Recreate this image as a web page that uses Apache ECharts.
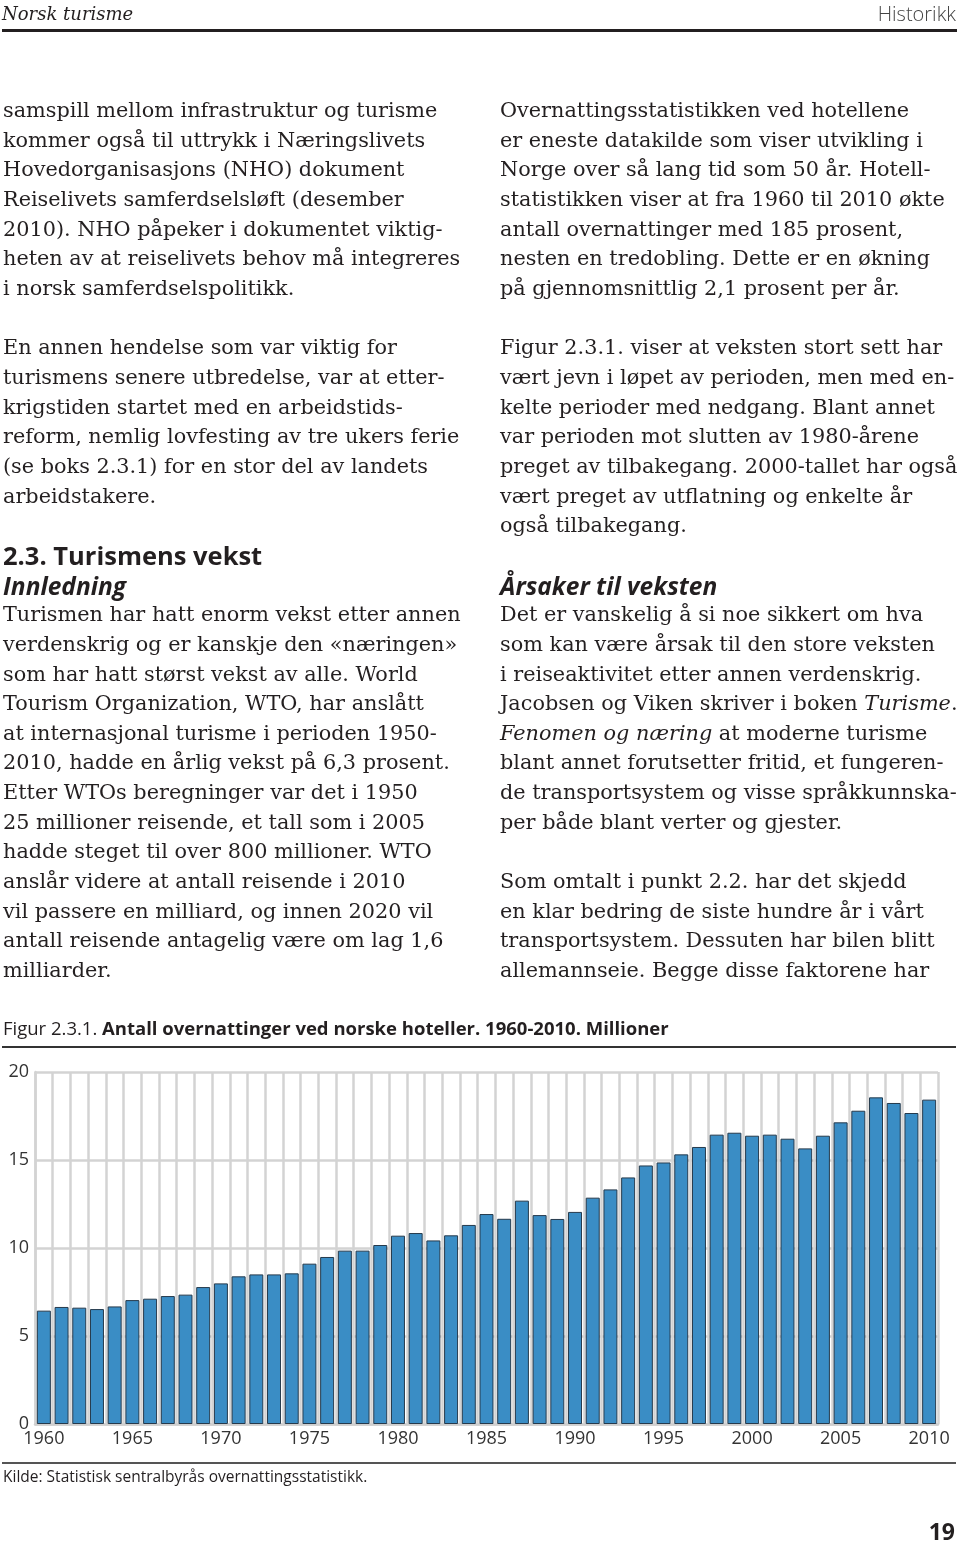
<!DOCTYPE html>
<html>
<head>
<meta charset="utf-8">
<script src="https://cdn.jsdelivr.net/npm/echarts@6/dist/echarts.min.js"></script>
<style>
  html, body { margin:0; padding:0; background:#fff; }
  body { width:960px; height:1545px; position:relative; overflow:hidden; color:#231f20; }
  #chart { position:absolute; left:0; top:0; width:960px; height:1545px; }
  #page { position:absolute; left:0; top:0; width:960px; height:1545px; pointer-events:none; }
  .ln { position:absolute; white-space:nowrap; font-family:"DejaVu Serif", serif; font-size:20.8px; height:29.65px; line-height:29.65px; }
  .h2 { font-family:"Open Sans", sans-serif; font-weight:bold; font-size:25.5px; }
  .h3 { font-family:"Open Sans", sans-serif; font-weight:bold; font-style:italic; font-size:24.5px; }
</style>
</head>
<body>
<div id="chart"></div>
<div id="page"></div>
<script>
// ---------- chart data ----------
const years = ['1960','1961','1962','1963','1964','1965','1966','1967','1968','1969',
               '1970','1971','1972','1973','1974','1975','1976','1977','1978','1979',
               '1980','1981','1982','1983','1984','1985','1986','1987','1988','1989',
               '1990','1991','1992','1993','1994','1995','1996','1997','1998','1999',
               '2000','2001','2002','2003','2004','2005','2006','2007','2008','2009','2010'];
const nights = [6.44, 6.65, 6.61, 6.53, 6.68, 7.04, 7.12, 7.27, 7.35, 7.78,
                7.99, 8.39, 8.50, 8.50, 8.56, 9.11, 9.49, 9.85, 9.85, 10.17,
                10.70, 10.85, 10.43, 10.72, 11.31, 11.93, 11.66, 12.69, 11.87, 11.65,
                12.05, 12.86, 13.33, 14.01, 14.69, 14.86, 15.32, 15.74, 16.44, 16.55,
                16.38, 16.44, 16.21, 15.66, 16.38, 17.14, 17.80, 18.56, 18.24, 17.67, 18.43];
const yMin = 0, yMax = 20, yStep = 5;
const figLabel = 'Figur 2.3.1. ';
const figTitle = 'Antall overnattinger ved norske hoteller. 1960-2010. Millioner';
const sourceText = 'Kilde: Statistisk sentralbyrås overnattingsstatistikk.';

// ---------- page text ----------
const headerLeft = 'Norsk turisme';
const headerRight = 'Historikk';
const pageNo = '19';
const leftCol = [
  'samspill mellom infrastruktur og turisme',
  'kommer også til uttrykk i Næringslivets',
  'Hovedorganisasjons (NHO) dokument',
  'Reiselivets samferdselsløft (desember',
  '2010). NHO påpeker i dokumentet viktig-',
  'heten av at reiselivets behov må integreres',
  'i norsk samferdselspolitikk.',
  null,
  'En annen hendelse som var viktig for',
  'turismens senere utbredelse, var at etter-',
  'krigstiden startet med en arbeidstids-',
  'reform, nemlig lovfesting av tre ukers ferie',
  '(se boks 2.3.1) for en stor del av landets',
  'arbeidstakere.',
  null,
  ['h2','2.3. Turismens vekst'],
  ['h3','Innledning'],
  'Turismen har hatt enorm vekst etter annen',
  'verdenskrig og er kanskje den «næringen»',
  'som har hatt størst vekst av alle. World',
  'Tourism Organization, WTO, har anslått',
  'at internasjonal turisme i perioden 1950-',
  '2010, hadde en årlig vekst på 6,3 prosent.',
  'Etter WTOs beregninger var det i 1950',
  '25 millioner reisende, et tall som i 2005',
  'hadde steget til over 800 millioner. WTO',
  'anslår videre at antall reisende i 2010',
  'vil passere en milliard, og innen 2020 vil',
  'antall reisende antagelig være om lag 1,6',
  'milliarder.'
];
const rightCol = [
  'Overnattingsstatistikken ved hotellene',
  'er eneste datakilde som viser utvikling i',
  'Norge over så lang tid som 50 år. Hotell-',
  'statistikken viser at fra 1960 til 2010 økte',
  'antall overnattinger med 185 prosent,',
  'nesten en tredobling. Dette er en økning',
  'på gjennomsnittlig 2,1 prosent per år.',
  null,
  'Figur 2.3.1. viser at veksten stort sett har',
  'vært jevn i løpet av perioden, men med en-',
  'kelte perioder med nedgang. Blant annet',
  'var perioden mot slutten av 1980-årene',
  'preget av tilbakegang. 2000-tallet har også',
  'vært preget av utflatning og enkelte år',
  'også tilbakegang.',
  null,
  ['h3','Årsaker til veksten'],
  'Det er vanskelig å si noe sikkert om hva',
  'som kan være årsak til den store veksten',
  'i reiseaktivitet etter annen verdenskrig.',
  ['mix', [['', 'Jacobsen og Viken skriver i boken '], ['i', 'Turisme'], ['', '.']]],
  ['mix', [['i', 'Fenomen og næring'], ['', ' at moderne turisme']]],
  'blant annet forutsetter fritid, et fungeren-',
  'de transportsystem og visse språkkunnska-',
  'per både blant verter og gjester.',
  null,
  'Som omtalt i punkt 2.2. har det skjedd',
  'en klar bedring de siste hundre år i vårt',
  'transportsystem. Dessuten har bilen blitt',
  'allemannseie. Begge disse faktorene har'
];

// ---------- build page text ----------
const page = document.getElementById('page');
function addEl(tag, css, text) {
  const e = document.createElement(tag);
  e.style.cssText = css;
  if (text != null) e.textContent = text;
  page.appendChild(e);
  return e;
}
addEl('div', 'position:absolute;left:2px;top:0px;height:28px;line-height:28px;font-family:"DejaVu Serif",serif;font-style:italic;font-size:18px;white-space:nowrap;', headerLeft);
addEl('div', 'position:absolute;right:4px;top:0px;height:28px;line-height:28px;font-family:"Open Sans",sans-serif;font-weight:300;font-size:20px;color:#444;white-space:nowrap;', headerRight);
addEl('div', 'position:absolute;left:2px;top:29px;width:955px;height:3px;background:#231f20;', null);
addEl('div', 'position:absolute;right:5px;top:1516px;height:30px;line-height:30px;font-family:"Open Sans",sans-serif;font-weight:bold;font-size:23px;white-space:nowrap;', pageNo);

const LINE0 = 111, LH = 29.65;
function layoutCol(lines, x) {
  lines.forEach((ln, n) => {
    if (ln == null) return;
    const d = document.createElement('div');
    d.className = 'ln';
    d.style.left = x + 'px';
    d.style.top = (LINE0 - LH / 2 + LH * n) + 'px';
    if (typeof ln === 'string') {
      d.textContent = ln;
    } else if (ln[0] === 'mix') {
      ln[1].forEach(([k, t]) => {
        const s = document.createElement('span');
        if (k === 'i') s.style.fontStyle = 'italic';
        s.textContent = t;
        d.appendChild(s);
      });
    } else {
      d.classList.add(ln[0]);
      d.textContent = ln[1];
    }
    page.appendChild(d);
  });
}
layoutCol(leftCol, 3);
layoutCol(rightCol, 500);

// ---------- chart ----------
const chart = echarts.init(document.getElementById('chart'), null, { renderer: 'canvas' });
const sans = '"Open Sans", sans-serif';
chart.setOption({
  animation: false,
  title: {
    text: '{a|' + figLabel + '}{b|' + figTitle + '}',
    left: 3, top: 1020, padding: 0,
    textStyle: {
      fontWeight: 'normal',
      rich: {
        a: { fontFamily: sans, fontSize: 18.5, fontWeight: 'normal', color: '#231f20' },
        b: { fontFamily: sans, fontSize: 18.5, fontWeight: 'bold', color: '#231f20' }
      }
    }
  },
  grid: { left: 35, right: 22, top: 1072, bottom: 121, containLabel: false },
  xAxis: {
    type: 'category',
    data: years,
    boundaryGap: true,
    axisLine: { show: true, lineStyle: { color: '#cfcfcf', width: 2.5 } },
    axisTick: { show: false },
    axisLabel: { interval: 4, margin: 6, fontFamily: sans, fontSize: 18, color: '#333' },
    splitLine: { show: true, interval: 0, lineStyle: { color: '#d3d3d3', width: 2.5 } }
  },
  yAxis: {
    type: 'value',
    min: yMin, max: yMax, interval: yStep,
    axisLine: { show: true, lineStyle: { color: '#d3d3d3', width: 2.5 } },
    axisTick: { show: false },
    axisLabel: { margin: 6, fontFamily: sans, fontSize: 18, color: '#333', padding: [0, 0, 8, 0] },
    splitLine: { show: true, lineStyle: { color: '#d3d3d3', width: 2.5 } }
  },
  series: [{
    type: 'bar',
    data: nights,
    barCategoryGap: '21%',
    itemStyle: { color: '#3a8dc5', borderColor: '#263a4c', borderWidth: 1 }
  }],
  graphic: [
    { type: 'line', shape: { x1: 2, y1: 1047, x2: 956, y2: 1047 }, style: { stroke: '#333', lineWidth: 2 } },
    { type: 'line', shape: { x1: 2, y1: 1463, x2: 956, y2: 1463 }, style: { stroke: '#555', lineWidth: 2 } },
    { type: 'text', left: 3, top: 1470, style: { text: sourceText, font: '15.5px "Open Sans", sans-serif', fill: '#231f20' } }
  ]
});
</script>
</body>
</html>
